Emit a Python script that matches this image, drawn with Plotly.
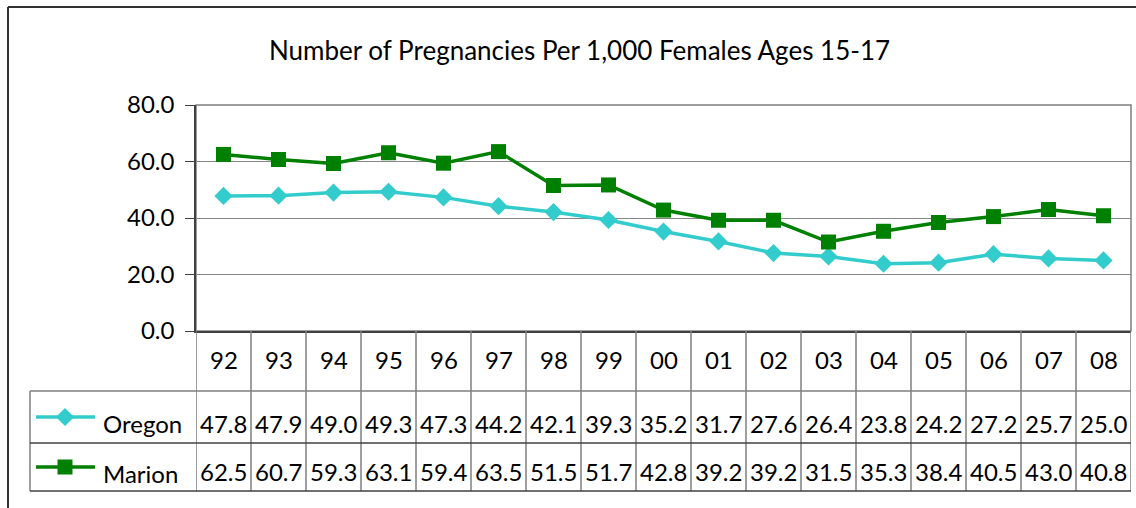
import plotly.graph_objects as go

years = ["92", "93", "94", "95", "96", "97", "98", "99", "00", "01", "02", "03", "04", "05", "06", "07", "08"]
oregon = [47.8, 47.9, 49.0, 49.3, 47.3, 44.2, 42.1, 39.3, 35.2, 31.7, 27.6, 26.4, 23.8, 24.2, 27.2, 25.7, 25.0]
marion = [62.5, 60.7, 59.3, 63.1, 59.4, 63.5, 51.5, 51.7, 42.8, 39.2, 39.2, 31.5, 35.3, 38.4, 40.5, 43.0, 40.8]
title = "Number of Pregnancies Per 1,000 Females Ages 15-17"

W, H = 1136, 508
FONT = "Lato"
TXT = dict(family=FONT, size=24, color="black")
OREGON_C = "#33CCCC"
MARION_C = "#008000"

def py(px):
    return 1 - px / H

def pxx(px):
    return px / W

# layout geometry in pixels
PLOT_L, PLOT_R = 196, 1131
PLOT_T, PLOT_B = 105, 331
ROW1, ROW2, ROW3 = 391, 443, 491
LEG_L = 30

n = len(years)
fig = go.Figure()

fig.add_trace(go.Scatter(x=list(range(n)), y=oregon, mode="lines+markers", name="Oregon",
                         line=dict(color=OREGON_C, width=3.5),
                         marker=dict(symbol="diamond", size=14, color=OREGON_C)))
fig.add_trace(go.Scatter(x=list(range(n)), y=marion, mode="lines+markers", name="Marion",
                         line=dict(color=MARION_C, width=3.5),
                         marker=dict(symbol="square", size=15, color=MARION_C)))

# legend swatches in the data table (pixel-space axes)
for name, col, sym, sz, yc in [("Oregon", OREGON_C, "diamond", 14, 417), ("Marion", MARION_C, "square", 15, 467)]:
    fig.add_trace(go.Scatter(x=[36, 65, 95], y=[yc, yc, yc], xaxis="x2", yaxis="y2", mode="lines",
                             line=dict(color=col, width=3.5), hoverinfo="skip"))
    fig.add_trace(go.Scatter(x=[65], y=[yc], xaxis="x2", yaxis="y2", mode="markers",
                             marker=dict(symbol=sym, size=sz, color=col), hoverinfo="skip"))
    fig.add_annotation(x=pxx(101), y=py(yc + 6), xref="paper", yref="paper", text=name,
                       showarrow=False, xanchor="left", yanchor="middle", font=TXT)

shapes = []
GRAY = "#7f7f7f"
DARK = "#404040"
# plot area border
shapes.append(dict(type="rect", xref="paper", yref="paper", x0=pxx(PLOT_L), x1=pxx(PLOT_R),
                   y0=py(PLOT_B), y1=py(PLOT_T), line=dict(color=GRAY, width=1.5), layer="below"))
# table verticals
for i in range(n + 1):
    shapes.append(dict(type="line", xref="x", yref="paper", x0=i - 0.5, x1=i - 0.5,
                       y0=py(ROW3), y1=py(PLOT_B), line=dict(color=GRAY, width=1.5)))
shapes.append(dict(type="line", xref="paper", yref="paper", x0=pxx(LEG_L), x1=pxx(LEG_L),
                   y0=py(ROW3), y1=py(ROW1), line=dict(color=GRAY, width=1.5)))
# table horizontals
for yy, c in [(ROW1, GRAY), (ROW2, DARK), (ROW3, DARK)]:
    shapes.append(dict(type="line", xref="paper", yref="paper", x0=pxx(LEG_L), x1=pxx(PLOT_R),
                       y0=py(yy), y1=py(yy), line=dict(color=c, width=1.5)))
# outer chart border
shapes.append(dict(type="line", xref="paper", yref="paper", x0=pxx(8), x1=1.0,
                   y0=py(7), y1=py(7), line=dict(color="#333333", width=2)))
shapes.append(dict(type="line", xref="paper", yref="paper", x0=pxx(8), x1=pxx(8),
                   y0=0, y1=py(7), line=dict(color="#333333", width=2)))

# table cell texts
for i, yr in enumerate(years):
    fig.add_annotation(x=i, y=py((PLOT_B + ROW1) / 2 - 2), xref="x", yref="paper", text=yr,
                       showarrow=False, xanchor="center", yanchor="middle", font=TXT)
    fig.add_annotation(x=i, y=py((ROW1 + ROW2) / 2 + 6), xref="x", yref="paper", text=f"{oregon[i]:.1f}",
                       showarrow=False, xanchor="center", yanchor="middle", font=TXT)
    fig.add_annotation(x=i, y=py((ROW2 + ROW3) / 2 + 4), xref="x", yref="paper", text=f"{marion[i]:.1f}",
                       showarrow=False, xanchor="center", yanchor="middle", font=TXT)

fig.add_annotation(x=pxx(579), y=py(50), xref="paper", yref="paper", text=title, showarrow=False,
                   xanchor="center", yanchor="middle", font=dict(family=FONT, size=26, color="black"))

fig.update_layout(
    width=W, height=H, margin=dict(l=0, r=0, t=0, b=0, pad=0, autoexpand=False),
    paper_bgcolor="white", plot_bgcolor="rgba(0,0,0,0)", showlegend=False,
    font=dict(family=FONT),
    shapes=shapes,
    xaxis=dict(domain=[pxx(PLOT_L), pxx(PLOT_R)], range=[-0.5, n - 0.5], showticklabels=False,
               showgrid=False, zeroline=False, showline=True, linecolor=DARK, linewidth=1.5,
               ticks="", fixedrange=True, automargin=False),
    yaxis=dict(domain=[py(PLOT_B), py(PLOT_T)], range=[0, 80], dtick=20, tickformat=".1f",
               showgrid=True, gridcolor="#868686", gridwidth=1, zeroline=False,
               showline=True, linecolor=DARK, linewidth=1.5, ticks="outside", ticklen=9,
               tickcolor=DARK, tickfont=TXT, ticklabelstandoff=6, automargin=False, fixedrange=True),
    xaxis2=dict(domain=[0, 1], range=[0, W], visible=False, anchor="y2", automargin=False, fixedrange=True),
    yaxis2=dict(domain=[0, 1], range=[H, 0], visible=False, anchor="x2", automargin=False, fixedrange=True),
)

fig.write_html("out.html", config={"displayModeBar": False},
               post_script="document.body.style.margin='0';document.body.style.overflow='hidden';")
